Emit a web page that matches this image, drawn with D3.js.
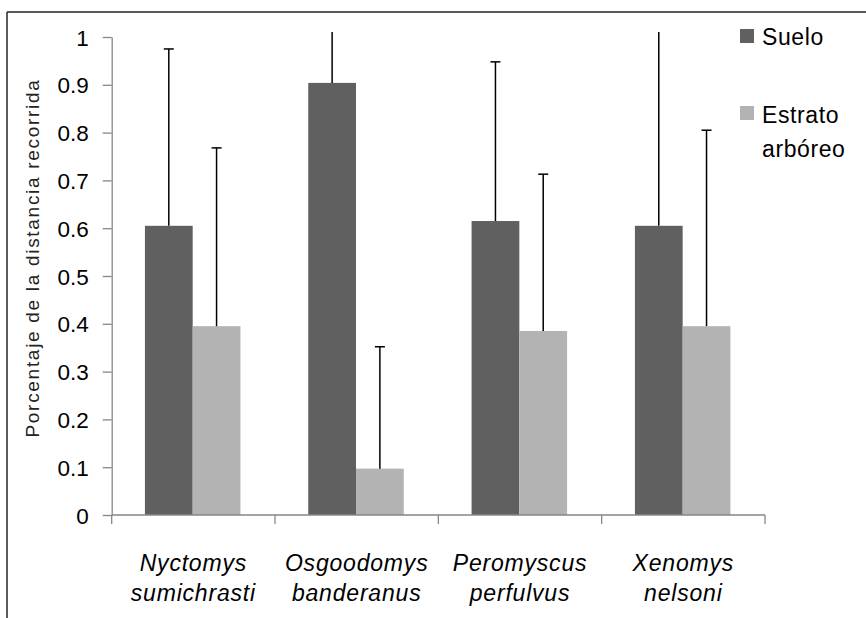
<!DOCTYPE html>
<html>
<head>
<meta charset="utf-8">
<script src="https://cdn.jsdelivr.net/npm/d3@7"></script>
<style>
  html, body { margin: 0; padding: 0; background: #fff; }
  svg { display: block; }
  text { font-family: "Liberation Sans", Arial, sans-serif; }
</style>
</head>
<body>
<svg id="chart" width="866" height="618"></svg>
<script>
// ---- data ----
const categories = ["Nyctomys sumichrasti", "Osgoodomys banderanus", "Peromyscus perfulvus", "Xenomys nelsoni"];
const seriesNames = ["Suelo", "Estrato arbóreo"];
const sueloValues = [0.605, 0.904, 0.615, 0.605];
const estratoValues = [0.395, 0.097, 0.385, 0.395];
const sueloErrors = [0.37, 0.2, 0.333, 0.45];
const estratoErrors = [0.373, 0.255, 0.328, 0.41];
const yTicks = [0, 0.1, 0.2, 0.3, 0.4, 0.5, 0.6, 0.7, 0.8, 0.9, 1];
const yTickLabels = ["0", "0.1", "0.2", "0.3", "0.4", "0.5", "0.6", "0.7", "0.8", "0.9", "1"];
const yTitle = "Porcentaje de la distancia recorrida";
const seriesColors = ["#606060", "#b3b3b3"];

const svg = d3.select("#chart");

// frame
svg.append("line").attr("x1", 7).attr("x2", 866).attr("y1", 12).attr("y2", 12)
  .attr("stroke", "#222").attr("stroke-width", 1.6);
svg.append("line").attr("x1", 7).attr("x2", 7).attr("y1", 12).attr("y2", 618)
  .attr("stroke", "#333").attr("stroke-width", 1.6);

const x0 = d3.scaleBand().domain(categories).range([111.7, 765]).paddingInner(0).paddingOuter(0);
const x1 = d3.scaleBand().domain(seriesNames).range([0, x0.bandwidth()]).paddingInner(0).paddingOuter(0.71).align(0.49);
const y = d3.scaleLinear().domain([0, 1]).range([515, 37]);

const rows = categories.map((c, i) => ({
  cat: c,
  vals: [
    { s: seriesNames[0], v: sueloValues[i], e: sueloErrors[i] },
    { s: seriesNames[1], v: estratoValues[i], e: estratoErrors[i] }
  ]
}));

// clip for error bars
svg.append("defs").append("clipPath").attr("id", "plotclip")
  .append("rect").attr("x", 100).attr("y", 32).attr("width", 700).attr("height", 500);

// bars
const groups = svg.append("g").selectAll("g").data(rows).join("g")
  .attr("transform", d => `translate(${x0(d.cat)},0)`);
groups.selectAll("rect").data(d => d.vals).join("rect")
  .attr("x", d => x1(d.s))
  .attr("y", d => y(d.v))
  .attr("width", x1.bandwidth())
  .attr("height", d => y(0) - y(d.v))
  .attr("fill", (d, i) => seriesColors[i]);

// error bars
const eg = svg.append("g").attr("clip-path", "url(#plotclip)");
rows.forEach(r => {
  r.vals.forEach(d => {
    const cx = x0(r.cat) + x1(d.s) + x1.bandwidth() / 2;
    eg.append("line").attr("x1", cx).attr("x2", cx)
      .attr("y1", y(d.v)).attr("y2", y(d.v + d.e))
      .attr("stroke", "#000").attr("stroke-width", 1.5);
    eg.append("line").attr("x1", cx - 5).attr("x2", cx + 5)
      .attr("y1", y(d.v + d.e)).attr("y2", y(d.v + d.e))
      .attr("stroke", "#000").attr("stroke-width", 1.5);
  });
});

// y axis
const yAxis = d3.axisLeft(y).tickValues(yTicks)
  .tickFormat((d, i) => yTickLabels[i]).tickSize(9).tickSizeOuter(0).tickPadding(14);
const yg = svg.append("g").attr("transform", "translate(111.7,0)").call(yAxis);
yg.select(".domain").attr("stroke", "#868686").attr("stroke-width", 1.3);
yg.selectAll(".tick line").attr("stroke", "#868686").attr("stroke-width", 1.3);
yg.selectAll(".tick text").attr("font-size", 22.5).attr("fill", "#000")
  .attr("font-family", "'Liberation Sans', Arial, sans-serif").attr("dy", "0.36em");

// x axis baseline + boundary ticks
const xg = svg.append("g");
xg.append("line").attr("x1", x0.range()[0]).attr("x2", x0.range()[1])
  .attr("y1", y(0)).attr("y2", y(0)).attr("stroke", "#868686").attr("stroke-width", 1.3);
const bounds = categories.map(c => x0(c)).concat([x0.range()[1]]);
xg.selectAll("line.bt").data(bounds).join("line").attr("class", "bt")
  .attr("x1", d => d).attr("x2", d => d).attr("y1", y(0)).attr("y2", y(0) + 9)
  .attr("stroke", "#868686").attr("stroke-width", 1.3);

// category labels
const lab = svg.append("g").selectAll("text").data(categories).join("text")
  .attr("x", d => x0(d) + x0.bandwidth() / 2)
  .attr("y", 571)
  .attr("text-anchor", "middle")
  .attr("font-size", 23)
  .attr("font-style", "italic")
  .attr("letter-spacing", "0.8px")
  .attr("fill", "#000");
lab.each(function(d) {
  const parts = d.split(" ");
  const t = d3.select(this);
  parts.forEach((p, i) => {
    t.append("tspan").attr("x", x0(d) + x0.bandwidth() / 2).attr("dy", i === 0 ? 0 : 30).text(p);
  });
});

// y title
svg.append("text")
  .attr("transform", "translate(39,258) rotate(-90)")
  .attr("text-anchor", "middle")
  .attr("font-size", 19)
  .attr("letter-spacing", "1.7px")
  .attr("fill", "#222")
  .text(yTitle);

// legend
const legend = svg.append("g");
const legendRows = [
  { name: seriesNames[0], lines: ["Suelo"], sqY: 29, baseY: 45 },
  { name: seriesNames[1], lines: ["Estrato", "arbóreo"], sqY: 106, baseY: 123 }
];
legendRows.forEach((r, i) => {
  legend.append("rect").attr("x", 740).attr("y", r.sqY).attr("width", 14).attr("height", 14)
    .attr("fill", seriesColors[i]);
  const t = legend.append("text").attr("x", 762).attr("y", r.baseY)
    .attr("font-size", 23).attr("letter-spacing", "0.6px").attr("fill", "#000");
  r.lines.forEach((l, j) => {
    t.append("tspan").attr("x", 762).attr("dy", j === 0 ? 0 : 34).text(l);
  });
});
</script>
</body>
</html>
